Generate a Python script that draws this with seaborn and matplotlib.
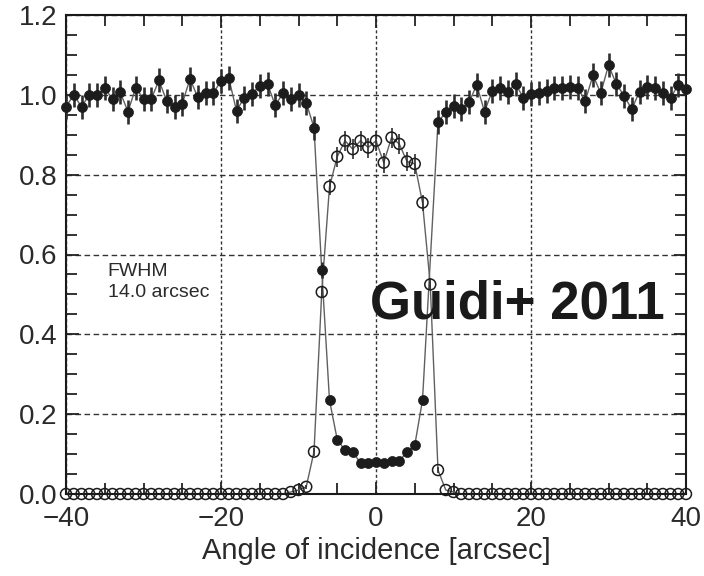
import matplotlib
matplotlib.use("Agg")
import matplotlib.pyplot as plt
from matplotlib.ticker import MultipleLocator, FixedLocator
import numpy as np
import pandas as pd
import seaborn as sns

# ---- data ----
filled_x = list(range(-40, 7)) + list(range(8, 41))
filled_y = [0.970, 1.000, 0.970, 1.000, 1.000, 1.016, 0.990, 1.006, 0.958, 1.018,
            0.990, 0.990, 1.036, 0.984, 0.970, 0.978, 1.040, 0.994, 1.004, 1.004,
            1.035, 1.042, 0.960, 0.993, 1.002, 1.023, 1.027, 0.974, 1.004, 0.989,
            0.999, 0.980, 0.918, 0.560, 0.235, 0.136, 0.110, 0.106, 0.077, 0.078,
            0.080, 0.078, 0.082, 0.082, 0.106, 0.122, 0.235,
            0.932, 0.956, 0.972, 0.964, 0.981, 1.025, 0.958, 1.010, 1.018, 1.008,
            1.028, 0.993, 1.002, 1.004, 1.010, 1.018, 1.018, 1.020, 1.018, 0.985,
            1.049, 1.004, 1.074, 1.028, 0.998, 0.964, 1.008, 1.020, 1.018, 1.004,
            0.993, 1.024, 1.014]
filled_err = [0.030] * 33 + [0.020, 0.008, 0.006, 0.006, 0.006, 0.005, 0.005,
              0.005, 0.005, 0.005, 0.005, 0.006, 0.006, 0.008] + [0.030] * 33

open_x = list(range(-40, 41))
open_y = [0.0] * 29 + [0.005, 0.010, 0.018, 0.106, 0.506, 0.770, 0.845, 0.885,
          0.864, 0.885, 0.868, 0.885, 0.830, 0.893, 0.877, 0.833, 0.827, 0.730,
          0.525, 0.060, 0.010, 0.005] + [0.0] * 30
open_err = [0.0] * 29 + [0.0, 0.0, 0.005, 0.010, 0.015, 0.020, 0.025, 0.025,
            0.025, 0.025, 0.025, 0.025, 0.025, 0.025, 0.025, 0.025, 0.025, 0.020,
            0.015, 0.008, 0.0, 0.0] + [0.0] * 30

x_ticks = [-40, -20, 0, 20, 40]
y_ticks = [0.0, 0.2, 0.4, 0.6, 0.8, 1.0, 1.2]
x_label = "Angle of incidence [arcsec]"
note_text = "FWHM\n14.0 arcsec"
stamp_text = "Guidi+ 2011"

df_f = pd.DataFrame({"x": filled_x, "y": filled_y, "err": filled_err})
df_o = pd.DataFrame({"x": open_x, "y": open_y, "err": open_err})

sns.set_style("ticks")
plt.rcParams["font.family"] = ["Liberation Sans", "DejaVu Sans"]

fig = plt.figure(figsize=(7.04, 5.76), dpi=100)
ax = fig.add_axes([66 / 704, 1 - 494 / 576, 620 / 704, 479 / 576])

dark = "#1c1c1c"
# connecting lines
sns.lineplot(data=df_o, x="x", y="y", ax=ax, color="#606060", lw=1.0,
             sort=False, estimator=None, zorder=2)
sns.lineplot(data=df_f, x="x", y="y", ax=ax, color="#606060", lw=1.0,
             sort=False, estimator=None, zorder=2)
# error bars
ax.errorbar(df_f["x"], df_f["y"], yerr=df_f["err"], fmt="none",
            ecolor="#2e2e2e", elinewidth=1.9, capsize=0, zorder=3)
ax.errorbar(df_o["x"], df_o["y"], yerr=df_o["err"], fmt="none",
            ecolor="#2e2e2e", elinewidth=1.2, capsize=0, zorder=3)
# markers
sns.scatterplot(data=df_o, x="x", y="y", ax=ax, color=dark, s=62,
                edgecolor=dark, linewidth=1.1, zorder=4, clip_on=False)
ax.collections[-1].set_facecolor("none")
sns.scatterplot(data=df_f, x="x", y="y", ax=ax, color=dark, s=52,
                edgecolor=dark, linewidth=0.5, zorder=5, clip_on=False)

ax.set_xlim(-40, 40)
ax.set_ylim(0, 1.2)
ax.xaxis.set_major_locator(FixedLocator(x_ticks))
ax.yaxis.set_major_locator(FixedLocator(y_ticks))
ax.xaxis.set_minor_locator(MultipleLocator(5))
ax.yaxis.set_minor_locator(MultipleLocator(0.05))
ax.set_yticklabels([f"{v:.1f}" for v in y_ticks])

ax.xaxis.grid(True, which="major", ls=(0, (2.2, 1.8)), color="#333333", lw=1.0)
ax.yaxis.grid(True, which="major", ls=(0, (4, 2.5)), color="#333333", lw=1.0)
ax.set_axisbelow(True)

ax.tick_params(which="both", direction="in", top=True, right=True,
               color="#222222", width=1.3, labelsize=20, labelcolor="#2a2a2a")
ax.tick_params(which="major", length=9)
ax.tick_params(which="minor", length=8)
ax.tick_params(axis="x", which="major", pad=9)
ax.tick_params(axis="y", which="major", pad=6)
for sp in ax.spines.values():
    sp.set_linewidth(1.5)
    sp.set_color("#1a1a1a")
    sp.set_visible(True)

ax.set_xlabel(x_label, fontsize=21, color="#2a2a2a", labelpad=3)
ax.set_ylabel("")

ax.text(-34.6, 0.578, note_text, fontsize=14, color="#2a2a2a",
        va="top", ha="left", linespacing=1.3)
ax.text(18.2, 0.475, stamp_text, fontsize=38, fontweight="bold",
        color="#1a1a1a", ha="center", va="center", zorder=10)

fig.savefig("out.png", dpi=100)
